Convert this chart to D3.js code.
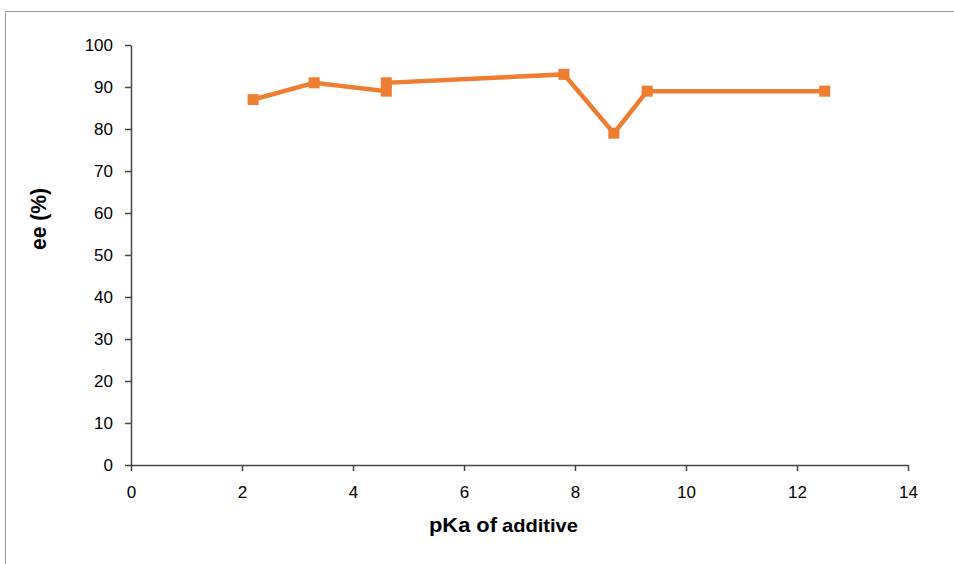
<!DOCTYPE html>
<html><head><meta charset="utf-8">
<script src="https://cdn.jsdelivr.net/npm/d3@7"></script>
<style>body{margin:0;background:#fff}svg{display:block}text{font-family:"Liberation Sans",Arial,sans-serif}</style>
</head><body>
<svg id="c" width="954" height="564"></svg>
<script>
const pKa = [2.2, 3.3, 4.6, 4.6, 7.8, 8.7, 9.3, 12.5];
const ee  = [87, 91, 89, 91, 93, 79, 89, 89];
const xTicks = [0, 2, 4, 6, 8, 10, 12, 14];
const yTicks = [0, 10, 20, 30, 40, 50, 60, 70, 80, 90, 100];

const svg = d3.select("#c");
// outer frame lines
svg.append("line").attr("x1",5.5).attr("x2",954).attr("y1",11.5).attr("y2",11.5).attr("stroke","#999").attr("stroke-width",1);
svg.append("line").attr("x1",5.5).attr("x2",5.5).attr("y1",11.5).attr("y2",564).attr("stroke","#999").attr("stroke-width",1);

const x = d3.scaleLinear().domain([0,14]).range([131,908]);
const y = d3.scaleLinear().domain([0,100]).range([465,45]);

const xa = svg.append("g").attr("transform","translate(0,465)")
  .call(d3.axisBottom(x).tickValues(xTicks).tickSize(6).tickSizeOuter(0).tickPadding(15));
const ya = svg.append("g").attr("transform","translate(131,0)")
  .call(d3.axisLeft(y).tickValues(yTicks).tickSize(6).tickSizeOuter(0).tickPadding(12));
[xa,ya].forEach(a=>{
  a.attr("font-size",null).attr("font-family",null);
  a.selectAll("path,line").attr("stroke","#444").attr("stroke-width",1.5);
  a.selectAll("text").style("font-size","17px").attr("fill","#000");
});

const pts = pKa.map((v,i)=>[v, ee[i]]);
svg.append("path").datum(pts)
  .attr("d", d3.line().x(d=>x(d[0])).y(d=>y(d[1])))
  .attr("fill","none").attr("stroke","#ED7D31").attr("stroke-width",4.5).attr("stroke-linejoin","miter");
svg.selectAll("rect.m").data(pts).enter().append("rect")
  .attr("class","m")
  .attr("x",d=>x(d[0])-5.5).attr("y",d=>y(d[1])-5.5)
  .attr("width",11).attr("height",11).attr("fill","#ED7D31");

svg.append("text").attr("transform","translate(46,219) rotate(-90)")
  .attr("text-anchor","middle").style("font-size","22px").attr("font-weight","bold")
  .attr("textLength",62).attr("lengthAdjust","spacingAndGlyphs").text("ee (%)");
const xl = svg.append("text").attr("y",532).attr("font-weight","bold");
xl.append("tspan").attr("x",429).style("font-size","21px").attr("textLength",68).attr("lengthAdjust","spacingAndGlyphs").text("pKa of");
xl.append("tspan").attr("x",502).style("font-size","19px").attr("textLength",76).attr("lengthAdjust","spacingAndGlyphs").text("additive");
</script>
</body></html>
